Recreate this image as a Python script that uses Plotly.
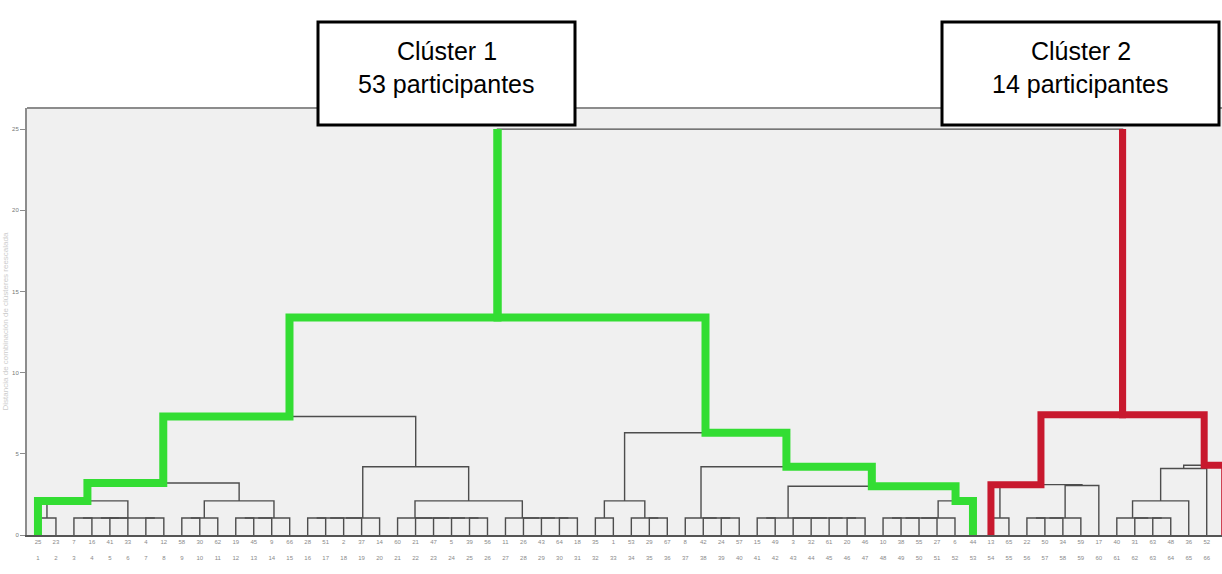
import plotly.graph_objects as go

# ---------------- data ----------------
y_ticks = [0, 5, 10, 15, 20, 25]

# case labels of the 67 leaves (left to right), two label rows
case_ids = [25, 23, 7, 16, 41, 33, 4, 12, 58, 30, 62, 19, 45, 9, 66, 28, 51, 2, 37, 14,
            60, 21, 47, 5, 39, 56, 11, 26, 43, 64, 18, 35, 1, 53, 29, 67, 8, 42, 24, 57,
            15, 49, 3, 32, 61, 20, 46, 10, 38, 55, 27, 6, 44, 13, 65, 22, 50, 34, 59, 17,
            40, 31, 63, 48, 36, 52, 54]

COMB_H = 1.05  # rescaled distance of the lowest-level merges

# lowest-level leaf groups (nested pairs all merge at COMB_H)
comb_00_01 = [0, 1]
comb_02_07 = [[[2, 3], [4, 5]], [6, 7]]
comb_08_10 = [[8, 9], 10]
comb_11_14 = [[[11, 12], 13], 14]
comb_15_19 = [[[[15, 16], 17], 18], 19]
comb_20_25 = [20, [21, [22, [23, [24, 25]]]]]
comb_26_30 = [26, [27, [28, [29, 30]]]]
comb_31_32 = [31, 32]
comb_33_35 = [33, [34, 35]]
comb_36_39 = [36, [37, [38, 39]]]
comb_40_46 = [[40, 41], [42, [43, [44, [45, 46]]]]]
comb_47_51 = [[[[47, 48], 49], 50], 51]
comb_53_54 = [53, 54]
comb_55_58 = [[[55, 56], 57], 58]
comb_60_63 = [60, [61, [62, 63]]]

# higher merges: (name, left, right, rescaled distance)
merges = [
    ("g00_07", "comb_00_01", "comb_02_07", 2.1),
    ("g08_14", "comb_08_10", "comb_11_14", 2.1),
    ("g00_14", "g00_07", "g08_14", 3.2),
    ("g20_30", "comb_20_25", "comb_26_30", 2.1),
    ("g15_30", "comb_15_19", "g20_30", 4.2),
    ("L1", "g00_14", "g15_30", 7.3),
    ("g31_35", "comb_31_32", "comb_33_35", 2.1),
    ("g47_52", "comb_47_51", 52, 2.1),
    ("g40_52", "comb_40_46", "g47_52", 3.0),
    ("g36_52", "comb_36_39", "g40_52", 4.2),
    ("R1", "g31_35", "g36_52", 6.3),
    ("C1", "L1", "R1", 13.4),
    ("g55_59", "comb_55_58", 59, 3.05),
    ("RL", "comb_53_54", "g55_59", 3.1),
    ("g60_64", "comb_60_63", 64, 2.1),
    ("g60_65", "g60_64", 65, 4.1),
    ("RR", "g60_65", 66, 4.3),
    ("C2", "RL", "RR", 7.4),
    ("ROOT", "C1", "C2", 25.0),
]

# ---------------- tree construction ----------------
combs = {k: v for k, v in globals().items() if k.startswith("comb_")}


def build_comb(spec):
    if isinstance(spec, int):
        return spec
    return {"h": COMB_H, "l": build_comb(spec[0]), "r": build_comb(spec[1])}


nodes = {k: build_comb(v) for k, v in combs.items()}
for name, a, b, h in merges:
    la = nodes[a] if isinstance(a, str) else a
    lb = nodes[b] if isinstance(b, str) else b
    nodes[name] = {"h": h, "l": la, "r": lb}


def is_leaf(n):
    return isinstance(n, int)


def pos(n):
    if is_leaf(n):
        return float(n)
    return (pos(n["l"]) + pos(n["r"])) / 2.0


def height(n):
    return 0.0 if is_leaf(n) else n["h"]


def edge_leaf(n, side):
    while not is_leaf(n):
        n = n[side]
    return n


gx, gy = [], []


def collect(n):
    if is_leaf(n):
        return
    xl, xr = pos(n["l"]), pos(n["r"])
    gx.extend([xl, xl, xr, xr, None])
    gy.extend([height(n["l"]), n["h"], n["h"], height(n["r"]), None])
    collect(n["l"])
    collect(n["r"])


root = nodes["ROOT"]
collect(root)


def spine(n, side):
    xs, ys = [], []
    cur = n
    while True:
        h = cur["h"]
        child = cur[side]
        if is_leaf(child) or child["h"] <= COMB_H:
            lf = edge_leaf(child, side)
            xs += [lf, lf]
            ys += [h, 0]
            break
        xs += [pos(child), pos(child)]
        ys += [h, child["h"]]
        cur = child
    return xs, ys


def highlight(n, top_h):
    xc = pos(n)
    lx, ly = spine(n, "l")
    rx, ry = spine(n, "r")
    xs = lx[::-1] + [xc, xc, None] + [xc, xc] + rx
    ys = ly[::-1] + [n["h"], top_h, None] + [top_h, n["h"]] + ry
    return xs, ys


fig = go.Figure()
fig.add_trace(go.Scatter(x=gx, y=gy, mode="lines",
                         line=dict(color="#4d4d4d", width=1.4),
                         hoverinfo="skip"))

g_x, g_y = highlight(nodes["C1"], root["h"])
fig.add_trace(go.Scatter(x=g_x, y=g_y, mode="lines",
                         line=dict(color="#33dd33", width=8),
                         hoverinfo="skip"))
r_x, r_y = highlight(nodes["C2"], root["h"])
fig.add_trace(go.Scatter(x=r_x, y=r_y, mode="lines",
                         line=dict(color="#c8192e", width=7),
                         hoverinfo="skip"))

tick_text = [f"{c}<br><br>{i + 1}" for i, c in enumerate(case_ids)]

# ---------------- layout ----------------
L, R, T, B = 27, 0, 108, 39
W, H = 1222, 574
pw, ph = W - L - R, H - T - B


def px_x(p):
    return (p - L) / pw


def px_y(p):
    return (H - B - p) / ph


fig.update_layout(
    width=W, height=H,
    margin=dict(l=L, r=R, t=T, b=B),
    plot_bgcolor="#f0f0f0", paper_bgcolor="white",
    showlegend=False,
    font=dict(family="Liberation Sans, Arial, sans-serif"),
    xaxis=dict(range=[-0.61, 65.85], showgrid=False, zeroline=False,
               showline=True, linecolor="#555555", linewidth=1.5,
               tickmode="array", tickvals=list(range(len(case_ids))),
               ticktext=tick_text, tickangle=0, ticks="",
               tickfont=dict(size=6, color="#8a8a8a")),
    yaxis=dict(range=[0, 26.3], showgrid=False, zeroline=False,
               showline=True, linecolor="#8c8c8c", linewidth=2,
               tickmode="array", tickvals=y_ticks, ticks="outside",
               ticklen=5, tickcolor="#8c8c8c",
               tickfont=dict(size=6, color="#777777"),
               title=dict(text="Distancia de combinación de clústeres reescalada",
                          font=dict(size=8, color="#cccccc"), standoff=2)),
)

# top frame line
fig.add_shape(type="line", xref="paper", yref="paper", x0=0, x1=1, y0=1, y1=1,
              line=dict(color="#8c8c8c", width=2))

# cluster boxes
boxes = [
    (318, 575, "Clúster 1", "53 participantes"),
    (942, 1219, "Clúster 2", "14 participantes"),
]
for x0, x1, t1, t2 in boxes:
    fig.add_shape(type="rect", xref="paper", yref="paper",
                  x0=px_x(x0), x1=px_x(x1), y0=px_y(125), y1=px_y(22),
                  line=dict(color="black", width=3), fillcolor="white",
                  layer="above")
    cx = px_x((x0 + x1) / 2)
    for txt, yy in ((t1, 51), (t2, 84)):
        fig.add_annotation(xref="paper", yref="paper", x=cx, y=px_y(yy),
                           xanchor="center", yanchor="middle",
                           text=txt, showarrow=False,
                           font=dict(size=25, color="black"))

fig.write_html("out.html", config={"displayModeBar": False},
               post_script="document.body.style.margin='0';")
